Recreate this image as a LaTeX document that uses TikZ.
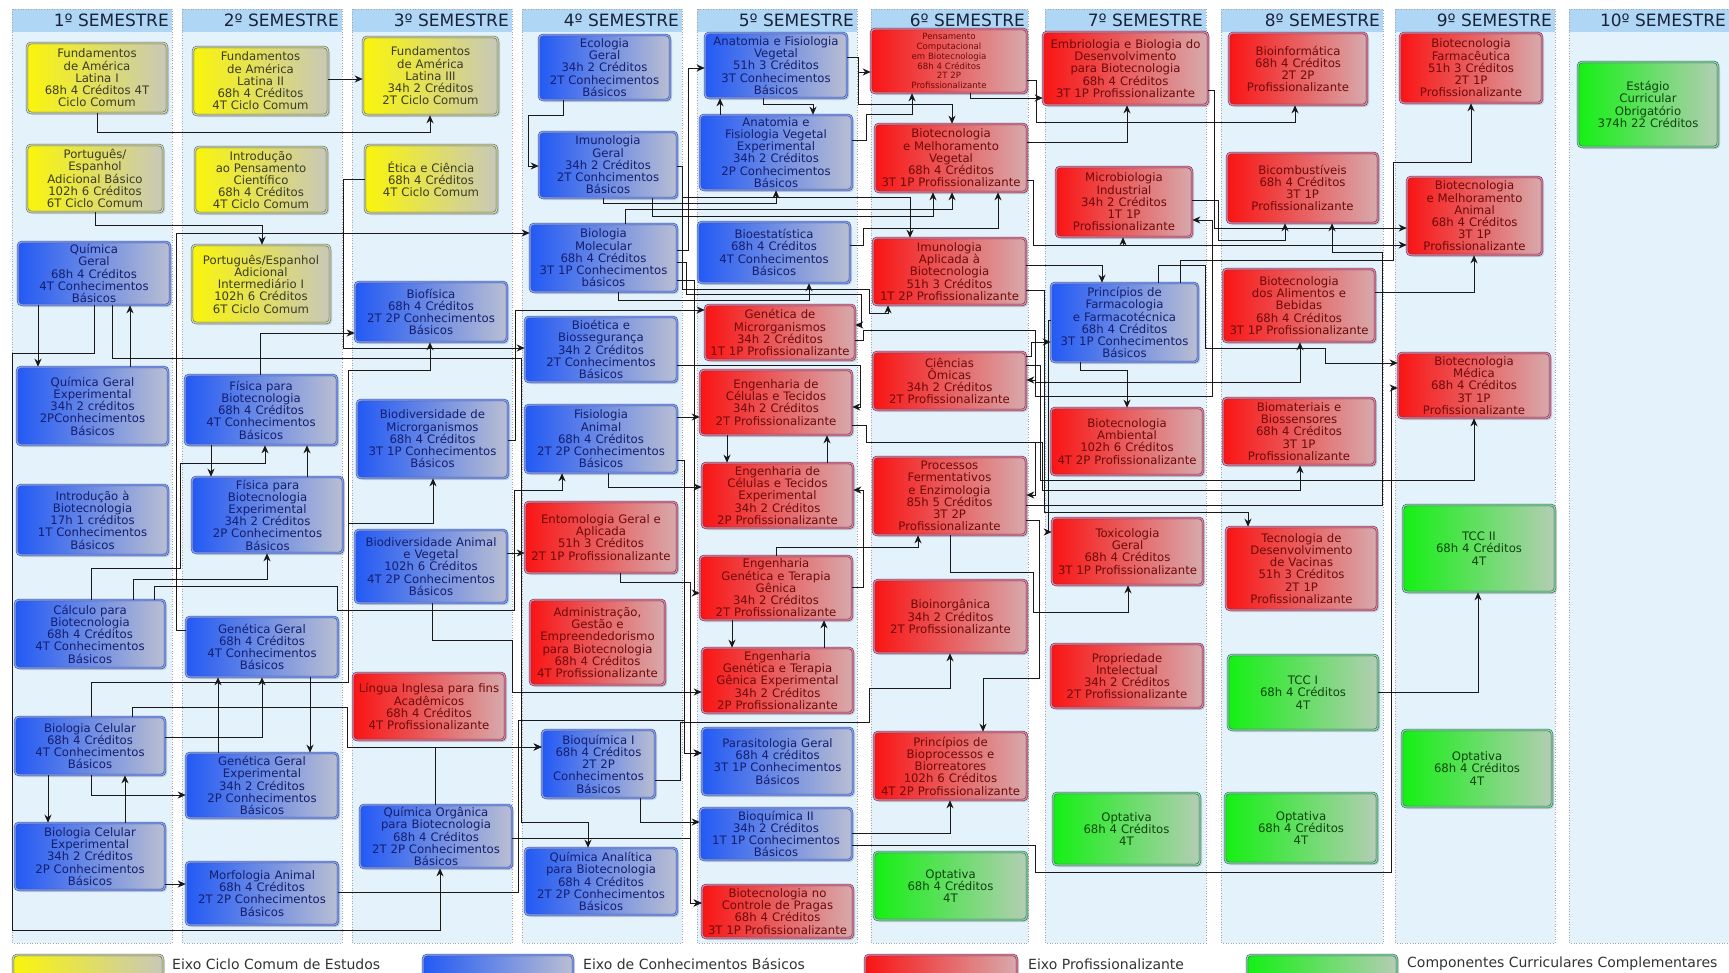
\documentclass[tikz,border=0pt]{standalone}
\usepackage{fontspec}
\setmainfont{DejaVu Sans}
\usetikzlibrary{arrows.meta,shadows}
\definecolor{ylwL}{RGB}{250,245,10}
\definecolor{ylwR}{RGB}{200,200,185}
\definecolor{ylwB}{RGB}{80,100,125}
\definecolor{ylwD}{RGB}{225,225,150}
\definecolor{ylwT}{RGB}{60,60,35}
\definecolor{bluL}{RGB}{35,90,245}
\definecolor{bluR}{RGB}{185,190,210}
\definecolor{bluB}{RGB}{55,80,170}
\definecolor{bluD}{RGB}{140,165,235}
\definecolor{bluT}{RGB}{20,30,110}
\definecolor{redL}{RGB}{250,20,20}
\definecolor{redR}{RGB}{215,170,172}
\definecolor{redB}{RGB}{110,45,100}
\definecolor{redD}{RGB}{230,140,150}
\definecolor{redT}{RGB}{110,10,10}
\definecolor{grnL}{RGB}{20,240,20}
\definecolor{grnR}{RGB}{180,205,180}
\definecolor{grnB}{RGB}{40,100,110}
\definecolor{grnD}{RGB}{150,225,150}
\definecolor{grnT}{RGB}{10,70,10}
\definecolor{colbg}{RGB}{228,242,252}
\definecolor{hdrbg}{RGB}{175,214,244}
\definecolor{hdrtx}{RGB}{25,35,55}
\newcommand\crsfont{\fontsize{11.7}{12.2}\selectfont}
\newcommand\smallcrsfont{\fontsize{8.6}{9.9}\selectfont}
\newcommand\course[7]{%
  \pgfmathsetmacro\crsX{(#3+#5)/2}%
  \pgfmathsetmacro\crsY{(#4+#6)/2}%
  \pgfmathsetmacro\crsW{#5-#3}%
  \pgfmathsetmacro\crsH{#6-#4}%
  \pgfmathsetmacro\crsT{#5-#3-6}%
  \node[#1, minimum width=\crsW pt, minimum height=\crsH pt, text width=\crsT pt] (#2) at (\crsX,\crsY) {#7};}
\newcommand\semcol[5]{%
  \fill[colbg] (#1,9) rectangle (#2,943);
  \fill[hdrbg] (#1,9) rectangle (#2,32);
  \draw[colframe] (#1,9) rectangle (#2,943);
  \node[hdr, anchor=east] (#4) at (#5,20.5) {#3};}
\tikzset{
  crs/.style={rounded corners=4pt, line width=0.6pt, double distance=1.2pt, inner xsep=3pt, inner ysep=1pt, align=center, font=\crsfont, drop shadow={opacity=0.3,shadow xshift=2pt,shadow yshift=-2pt}},
  yelbox/.style={crs, left color=ylwL, right color=ylwR, draw=ylwB, double=ylwD, text=ylwT},
  bluebox/.style={crs, left color=bluL, right color=bluR, draw=bluB, double=bluD, text=bluT},
  redbox/.style={crs, left color=redL, right color=redR, draw=redB, double=redD, text=redT},
  greenbox/.style={crs, left color=grnL, right color=grnR, draw=grnB, double=grnD, text=grnT},
  colframe/.style={draw=black!35, dotted, line width=0.6pt},
  hdr/.style={font=\fontsize{17}{20}\selectfont, text=hdrtx, inner sep=0pt},
  legtxt/.style={font=\fontsize{14}{16}\selectfont, text=black!80, inner sep=0pt},
  con/.style={draw=black!90, line width=0.9pt, -{Stealth[length=8pt,width=7pt,inset=2.5pt]}}
}
\begin{document}
\begin{tikzpicture}[x=1pt,y=-1pt]
\useasboundingbox (0,0) rectangle (1729,972);
\fill[white] (0,0) rectangle (1729,972);
% columns
\semcol{12}{172}{1º SEMESTRE}{h1}{169}
\semcol{182}{342}{2º SEMESTRE}{h2}{339}
\semcol{352}{512}{3º SEMESTRE}{h3}{509}
\semcol{522}{682}{4º SEMESTRE}{h4}{679}
\semcol{697}{857}{5º SEMESTRE}{h5}{854}
\semcol{871}{1028}{6º SEMESTRE}{h6}{1025}
\semcol{1045}{1206}{7º SEMESTRE}{h7}{1203}
\semcol{1221}{1383}{8º SEMESTRE}{h8}{1380}
\semcol{1395}{1555}{9º SEMESTRE}{h9}{1552}
\semcol{1569}{1740}{10º SEMESTRE}{h10}{1726}
% column 1
\course{yelbox}{fal1}{27}{43}{167}{113}{Fundamentos\\de América\\Latina I\\68h 4 Créditos 4T\\Ciclo Comum}
\course{yelbox}{peb}{27}{145}{163}{212}{Português/\\Espanhol\\Adicional Básico\\102h 6 Créditos\\6T Ciclo Comum}
\course{bluebox}{qg}{18}{242}{170}{305}{Química\\Geral\\68h 4 Créditos\\4T Conhecimentos\\Básicos}
\course{bluebox}{qge}{17}{367}{168}{445}{Química Geral\\Experimental\\34h 2 créditos\\2PConhecimentos\\Básicos}
\course{bluebox}{ib}{17}{485}{168}{555}{Introdução à\\Biotecnologia\\17h 1 créditos\\1T Conhecimentos\\Básicos}
\course{bluebox}{calc}{15}{600}{165}{668}{Cálculo para\\Biotecnologia\\68h 4 Créditos\\4T Conhecimentos\\Básicos}
\course{bluebox}{bc}{15}{717}{165}{775}{Biologia Celular\\68h 4 Créditos\\4T Conhecimentos\\Básicos}
\course{bluebox}{bce}{15}{823}{165}{890}{Biologia Celular\\Experimental\\34h 2 Créditos\\2P Conhecimentos\\Básicos}
% column 2
\course{yelbox}{fal2}{193}{47}{328}{115}{Fundamentos\\de América\\Latina II\\68h 4 Créditos\\4T Ciclo Comum}
\course{yelbox}{ipc}{195}{147}{327}{213}{Introdução\\ao Pensamento\\Científico\\68h 4 Créditos\\4T Ciclo Comum}
\course{yelbox}{pei}{192}{245}{330}{323}{Português/Espanhol\\Adicional\\Intermediário I\\102h 6 Créditos\\6T Ciclo Comum}
\course{bluebox}{fb}{185}{375}{337}{445}{Física para\\Biotecnologia\\68h 4 Créditos\\4T Conhecimentos\\Básicos}
\course{bluebox}{fbe}{192}{477}{343}{553}{Física para\\Biotecnologia\\Experimental\\34h 2 Créditos\\2P Conhecimentos\\Básicos}
\course{bluebox}{gg}{186}{617}{338}{677}{Genética Geral\\68h 4 Créditos\\4T Conhecimentos\\Básicos}
\course{bluebox}{gge}{186}{753}{338}{818}{Genética Geral\\Experimental\\34h 2 Créditos\\2P Conhecimentos\\Básicos}
\course{bluebox}{morf}{186}{862}{338}{925}{Morfologia Animal\\68h 4 Créditos\\2T 2P Conhecimentos\\Básicos}
% column 3
\course{yelbox}{fal3}{363}{37}{498}{115}{Fundamentos\\de América\\Latina III\\34h 2 Créditos\\2T Ciclo Comum}
\course{yelbox}{etica}{365}{145}{497}{213}{Ética e Ciência\\68h 4 Créditos\\4T Ciclo Comum}
\course{bluebox}{biof}{355}{282}{507}{342}{Biofísica\\68h 4 Créditos\\2T 2P Conhecimentos\\Básicos}
\course{bluebox}{bdm}{357}{400}{508}{478}{Biodiversidade de\\Microrganismos\\68h 4 Créditos\\3T 1P Conhecimentos\\Básicos}
\course{bluebox}{bav}{355}{530}{507}{603}{Biodiversidade Animal\\e Vegetal\\102h 6 Créditos\\4T 2P Conhecimentos\\Básicos}
\course{redbox}{li}{353}{673}{505}{740}{Língua Inglesa para fins\\Acadêmicos\\68h 4 Créditos\\4T Profissionalizante}
\course{bluebox}{qo}{360}{805}{512}{868}{Química Orgânica\\para Biotecnologia\\68h 4 Créditos\\2T 2P Conhecimentos\\Básicos}
% column 4
\course{bluebox}{eco}{539}{35}{670}{100}{Ecologia\\Geral\\34h 2 Créditos\\2T Conhecimentos\\Básicos}
\course{bluebox}{ig}{539}{132}{677}{198}{Imunologia\\Geral\\34h 2 Créditos\\2T Conhcimentos\\Básicos}
\course{bluebox}{bm}{530}{224}{677}{292}{Biologia\\Molecular\\68h 4 Créditos\\3T 1P Conhecimentos\\básicos}
\course{bluebox}{bio}{525}{317}{677}{382}{Bioética e\\Biossegurança\\34h 2 Créditos\\2T Conhecimentos\\Básicos}
\course{bluebox}{fa}{525}{405}{677}{473}{Fisiologia\\Animal\\68h 4 Créditos\\2T 2P Conhecimentos\\Básicos}
\course{redbox}{ento}{525}{502}{677}{573}{Entomologia Geral e\\Aplicada\\51h 3 Créditos\\2T 1P Profissionalizante}
\course{redbox}{adm}{530}{600}{665}{685}{Administração,\\Gestão e\\Empreendedorismo\\para Biotecnologia\\68h 4 Créditos\\4T Profissionalizante}
\course{bluebox}{bq1}{542}{730}{655}{798}{Bioquímica I\\68h 4 Créditos\\2T 2P\\Conhecimentos\\Básicos}
\course{bluebox}{qa}{525}{848}{677}{915}{Química Analítica\\para Biotecnologia\\68h 4 Créditos\\2T 2P Conhecimentos\\Básicos}
% column 5
\course{bluebox}{afv}{705}{33}{847}{98}{Anatomia e Fisiologia\\Vegetal\\51h 3 Créditos\\3T Conhecimentos\\Básicos}
\course{bluebox}{afve}{700}{115}{852}{190}{Anatomia e\\Fisiologia Vegetal\\Experimental\\34h 2 Créditos\\2P Conhecimentos\\Básicos}
\course{bluebox}{best}{698}{222}{850}{283}{Bioestatística\\68h 4 Créditos\\4T Conhecimentos\\Básicos}
\course{redbox}{gm}{705}{305}{855}{360}{Genética de\\Microrganismos\\34h 2 Créditos\\1T 1P Profissionalizante}
\course{redbox}{ect}{700}{370}{852}{435}{Engenharia de\\Células e Tecidos\\34h 2 Créditos\\2T Profissionalizante}
\course{redbox}{ecte}{702}{463}{853}{528}{Engenharia de\\Células e Tecidos\\Experimental\\34h 2 Créditos\\2P Profissionalizante}
\course{redbox}{egtg}{700}{556}{852}{620}{Engenharia\\Genética e Terapia\\Gênica\\34h 2 Créditos\\2T Profissionalizante}
\course{redbox}{egtge}{702}{648}{853}{713}{Engenharia\\Genética e Terapia\\Gênica Experimental\\34h 2 Créditos\\2P Profissionalizante}
\course{bluebox}{pg}{702}{728}{853}{795}{Parasitologia Geral\\68h 4 créditos\\3T 1P Conhecimentos\\Básicos}
\course{bluebox}{bq2}{700}{808}{852}{860}{Bioquímica II\\34h 2 Créditos\\1T 1P Conhecimentos\\Básicos}
\course{redbox}{bcp}{702}{885}{853}{938}{Biotecnologia no\\Controle de Pragas\\68h 4 Créditos\\3T 1P Profissionalizante}
% column 6
\course{redbox,font=\smallcrsfont}{pc}{871}{29}{1027}{93}{Pensamento\\Computacional\\em Biotecnologia\\68h 4 Créditos\\2T 2P\\Profissionalizante}
\course{redbox}{bmv}{875}{124}{1027}{192}{Biotecnologia\\e Melhoramento\\Vegetal\\68h 4 Créditos\\3T 1P Profissionalizante}
\course{redbox}{iab}{873}{238}{1026}{305}{Imunologia\\Aplicada à\\Biotecnologia\\51h 3 Créditos\\1T 2P Profissionalizante}
\course{redbox}{co}{873}{352}{1026}{410}{Ciências\\Ômicas\\34h 2 Créditos\\2T Profissionalizante}
\course{redbox}{pfe}{873}{457}{1026}{535}{Processos\\Fermentativos\\e Enzimologia\\85h 5 Créditos\\3T 2P\\Profissionalizante}
\course{redbox}{binorg}{874}{580}{1027}{653}{Bioinorgânica\\34h 2 Créditos\\2T Profissionalizante}
\course{redbox}{pbb}{874}{732}{1027}{800}{Princípios de\\Bioprocessos e\\Biorreatores\\102h 6 Créditos\\4T 2P Profissionalizante}
\course{greenbox}{opt6}{874}{852}{1027}{920}{Optativa\\68h 4 Créditos\\4T}
% column 7
\course{redbox}{emb}{1043}{32}{1208}{105}{Embriologia e Biologia do\\Desenvolvimento\\para Biotecnologia\\68h 4 Créditos\\3T 1P Profissionalizante}
\course{redbox}{mi}{1056}{167}{1192}{237}{Microbiologia\\Industrial\\34h 2 Créditos\\1T 1P\\Profissionalizante}
\course{bluebox}{pff}{1051}{283}{1198}{362}{Princípios de\\Farmacologia\\e Farmacotécnica\\68h 4 Créditos\\3T 1P Conhecimentos\\Básicos}
\course{redbox}{ba}{1051}{408}{1203}{475}{Biotecnologia\\Ambiental\\102h 6 Créditos\\4T 2P Profissionalizante}
\course{redbox}{tox}{1052}{518}{1203}{585}{Toxicologia\\Geral\\68h 4 Créditos\\3T 1P Profissionalizante}
\course{redbox}{pi}{1051}{644}{1203}{708}{Propriedade\\Intelectual\\34h 2 Créditos\\2T Profissionalizante}
\course{greenbox}{opt7}{1053}{793}{1200}{865}{Optativa\\68h 4 Créditos\\4T}
% column 8
\course{redbox}{binf}{1229}{33}{1367}{105}{Bioinformática\\68h 4 Créditos\\2T 2P\\Profissionalizante}
\course{redbox}{bcomb}{1227}{153}{1378}{223}{Bicombustíveis\\68h 4 Créditos\\3T 1P\\Profissionalizante}
\course{redbox}{bab}{1223}{269}{1375}{342}{Biotecnologia\\dos Alimentos e\\Bebidas\\68h 4 Créditos\\3T 1P Profissionalizante}
\course{redbox}{bmat}{1223}{398}{1375}{465}{Biomateriais e\\Biossensores\\68h 4 Créditos\\3T 1P\\Profissionalizante}
\course{redbox}{tdv}{1226}{527}{1377}{610}{Tecnologia de\\Desenvolvimento\\de Vacinas\\51h 3 Créditos\\2T 1P\\Profissionalizante}
\course{greenbox}{tcc1}{1228}{655}{1378}{730}{TCC I\\68h 4 Créditos\\4T}
\course{greenbox}{opt8}{1225}{793}{1377}{863}{Optativa\\68h 4 Créditos\\4T}
% column 9
\course{redbox}{bf}{1400}{33}{1542}{103}{Biotecnologia\\Farmacêutica\\51h 3 Créditos\\2T 1P\\Profissionalizante}
\course{redbox}{bma}{1407}{177}{1542}{255}{Biotecnologia\\e Melhoramento\\Animal\\68h 4 Créditos\\3T 1P\\Profissionalizante}
\course{redbox}{bmed}{1398}{353}{1550}{418}{Biotecnologia\\Médica\\68h 4 Créditos\\3T 1P\\Profissionalizante}
\course{greenbox}{tcc2}{1403}{505}{1555}{592}{TCC II\\68h 4 Créditos\\4T}
\course{greenbox}{opt9}{1402}{730}{1552}{807}{Optativa\\68h 4 Créditos\\4T}
% column 10
\course{greenbox}{est}{1578}{62}{1718}{147}{Estágio\\Curricular\\Obrigatório\\374h 22 Créditos}
% legend
\course{yelbox}{lg1}{13}{955}{163}{980}{}
\course{bluebox}{lg2}{423}{955}{573}{980}{}
\course{redbox}{lg3}{865}{955}{1017}{980}{}
\course{greenbox}{lg4}{1247}{955}{1397}{980}{}
\node[legtxt, anchor=west] (lt1) at (172,964) {Eixo Ciclo Comum de Estudos};
\node[legtxt, anchor=west] (lt2) at (583,964) {Eixo de Conhecimentos Básicos};
\node[legtxt, anchor=west] (lt3) at (1028,964) {Eixo Profissionalizante};
\node[legtxt, anchor=west] (lt4) at (1407,964) {Componentes Curriculares Complementares};
% ---------- connectors ----------
% columns 1-3
\draw[con] (fal1.south) |- (430,132) -- (fal3.south -| 430,0);
\draw[con] (fal2.east |- 0,79) -- (fal3.west |- 0,79);
\draw[con] (peb.south) |- (262,225) -- (pei.north -| 262,0);
\draw[con] (qg.south -| 38,0) -- (qge.north -| 38,0);
\draw[con] (qge.north -| 130,0) -- (qg.south -| 130,0);
\draw[con] (qg.south -| 94,0) |- (12,353) |- (440,930) -- (qo.south -| 440,0);
\draw[con] (qg.south -| 112,0) |- (521,358) |- (588,822) -- (qa.north -| 588,0);
\draw[con] (fb.south -| 211,0) -- (fbe.north -| 211,0);
\draw[con] (fbe.north -| 307,0) -- (fb.south -| 307,0);
\draw[con] (calc.north -| 91,0) |- (180,568) |- (265,463) -- (fb.south -| 265,0);
\draw[con] (calc.north -| 133,0) |- (267,579) -- (fbe.south -| 267,0);
\draw[con] (calc.north -| 154,0) |- (337,586) |- (514,610) |- (562,490) -- (fa.south -| 562,0);
\draw[con] (fb.north -| 260,0) |- (biof.west |- 0,333);
\draw[con] (etica.west) -| (343,348) -- (bio.west |- 0,348);
\draw[con] (gg.west |- 0,630) -| (176,233) -- (bm.west |- 0,233);
\draw[con] (gge.north -| 218,0) -- (gg.south -| 218,0);
\draw[con] (bc.east |- 0,737) -| (gg.south -| 262,0);
\draw[con] (gg.south -| 310,0) -- (gge.north -| 310,0);
\draw[con] (bc.south -| 91,0) |- (gge.west |- 0,795);
\draw[con] (bc.south -| 48,0) -- (bce.north -| 48,0);
\draw[con] (bce.north -| 125,0) -- (bc.south -| 125,0);
\draw[con] (bce.east |- 0,884) -- (morf.west |- 0,884);
\draw[con] (bc.north -| 91,0) |- (348,682) |- (430,370) -- (biof.south -| 430,0);
\draw[con] (bc.north -| 91,0) |- (348,682) |- (433,523) -- (bdm.south -| 433,0);
\draw[con] (bc.north -| 132,0) |- (347,707) |- (bq1.west |- 0,747);
% columns 3-5
\draw[con] (bav.east |- 0,553) -- (ento.west |- 0,553);
\draw[con] (eco.south -| 563,0) |- (528,115) |- (ig.west |- 0,166);
\draw[con] (qo.north -| 435,0) |- (bq1.west |- 0,747);
\draw[con] (bav.south -| 432,0) |- (512,640) |- (egtge.west |- 0,692);
\draw[con] (morf.east |- 0,892) -| (518,720) -| (684,753) -- (pg.west |- 0,753);
\draw[con] (fa.east |- 0,460) -| (684,753) -- (pg.west |- 0,753);
\draw[con] (fa.east |- 0,417) -- (ect.west |- 0,417);
\draw[con] (fa.south -| 608,0) |- (ecte.west |- 0,487);
\draw[con] (bq1.south -| 640,0) |- (bq2.west |- 0,822);
\draw[con] (ento.south -| 620,0) |- (690,582) |- (bcp.west |- 0,903);
\draw[con] (qo.east |- 0,838) -| (690,903) -- (bcp.west |- 0,903);
\draw[con] (bm.east |- 0,250) -| (688,68) -- (afv.west |- 0,68);
\draw[con] (afv.south -| 763,0) |- (813,104) -- (afve.north -| 813,0);
\draw[con] (afve.north -| 720,0) -- (afv.south -| 720,0);
\draw[con] (ig.south -| 603,0) |- (776,203) -- (afve.south -| 776,0);
\draw[con] (bm.south -| 618,0) |- (809,300) -- (best.south -| 809,0);
\draw[con] (bdm.east |- 0,440) -| (515,310) -- (gm.west |- 0,310);
\draw[con] (bm.east |- 0,262) -| (686,294) -| (861,325) -- (gm.east |- 0,325);
\draw[con] (bio.east |- 0,365) -| (860,407) -- (ect.east |- 0,407);
\draw[con] (ecte.north -| 827,0) -- (ect.south -| 827,0);
\draw[con] (ect.south -| 727,0) -- (ecte.north -| 727,0);
\draw[con] (egtg.east |- 0,587) -| (863,490) -- (ecte.east |- 0,490);
\draw[con] (bm.east |- 0,280) -| (694,593) -- (egtg.west |- 0,593);
\draw[con] (egtg.south -| 732,0) -- (egtge.north -| 732,0);
\draw[con] (egtge.north -| 824,0) -- (egtg.south -| 824,0);
\draw[con] (egtg.north -| 776,0) |- (918,547) -- (pfe.south -| 918,0);
\draw[con] (bq1.east |- 0,780) -| (680,722) -| (869,688) -| (binorg.south -| 950,0);
\draw[con] (bq2.east |- 0,833) -| (pbb.south -| 950,0);
\draw[con] (bq2.east |- 0,845) -| (1035,872) -| (1391,388) -- (bmed.west |- 0,388);
% columns 5-7
\draw[con] (afv.east |- 0,57) -| (858,72) -- (pc.west |- 0,72);
\draw[con] (afv.east |- 0,57) -| (858,104) -| (bmv.north -| 952,0);
\draw[con] (afve.east |- 0,140) -| (866,114) -| (pc.south -| 912,0);
\draw[con] (ig.south -| 652,0) |- (933,216) -- (bmv.south -| 933,0);
\draw[con] (bm.north -| 625,0) |- (952,209) -- (bmv.south -| 952,0);
\draw[con] (best.east |- 0,245) -| (863,228) -| (bmv.south -| 998,0);
\draw[con] (ig.east |- 0,166) -| (682,197) -| (iab.north -| 910,0);
\draw[con] (ig.east |- 0,166) -| (682,289) -| (869,313) -| (iab.south -| 888,0);
\draw[con] (gm.east |- 0,340) -| (863,330) -| (1035,380) -- (co.east |- 0,380);
\draw[con] (gm.east |- 0,340) -| (863,330) -| (1035,396) -| (1212,220) -- (mi.east |- 0,220);
\draw[con] (gm.east |- 0,340) -| (863,330) -| (1035,382) -| (bab.south -| 1300,0);
\draw[con] (ect.east |- 0,425) -| (866,442) -| (1035,495) -- (pfe.east |- 0,495);
\draw[con] (ect.east |- 0,425) -| (866,442) -| (1042,490) -| (bmat.south -| 1300,0);
\draw[con] (co.east |- 0,365) -| (1040,480) -| (bmed.south -| 1474,0);
\draw[con] (iab.east |- 0,290) -| (1044,512) -| (tdv.north -| 1248,0);
\draw[con] (pfe.east |- 0,505) -| (1382,252) -| (bcomb.south -| 1332,0);
\draw[con] (pfe.east |- 0,520) -| (1039,678) -| (pbb.north -| 983,0);
\draw[con] (pfe.south -| 950,0) |- (1033,572) |- (1128,612) -- (tox.south -| 1128,0);
\draw[con] (pc.south -| 970,0) |- (emb.west |- 0,98);
\draw[con] (pc.east |- 0,80) -| (1036,122) -| (binf.south -| 1295,0);
\draw[con] (bmv.east |- 0,142) -| (emb.south -| 1127,0);
\draw[con] (bmv.east |- 0,180) -| (1033,245) -| (mi.south -| 1123,0);
\draw[con] (bmv.east |- 0,180) -| (1033,245) -- (bma.west |- 0,245);
\draw[con] (iab.east |- 0,265) -| (pff.north -| 1102,0);
\draw[con] (co.east |- 0,356) -| (1031,342) -- (pff.west |- 0,342);
\draw[con] (pff.south -| 1080,0) |- (1127,370) -- (ba.north -| 1127,0);
\draw[con] (pff.west |- 0,320) -| (1048,532) -- (tox.west |- 0,532);
% columns 7-9
\draw[con] (emb.east |- 0,90) -| (1214,228) -- (bma.west |- 0,228);
\draw[con] (mi.east |- 0,200) -| (1218,240) -| (bcomb.south -| 1285,0);
\draw[con] (pff.north -| 1158,0) |- (1205,265) |- (1325,348) |- (bmed.west |- 0,363);
\draw[con] (pff.north -| 1180,0) |- (1393,260) |- (1471,162) -- (bf.south -| 1471,0);
\draw[con] (bab.east |- 0,292) -| (bma.south -| 1474,0);
\draw[con] (tcc1.east |- 0,692) -| (tcc2.south -| 1478,0);
\end{tikzpicture}
\end{document}
